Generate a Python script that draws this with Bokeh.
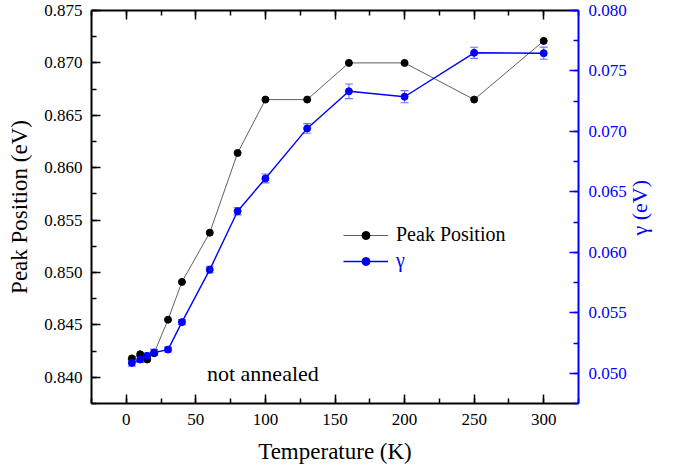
import math
from bokeh.plotting import figure
from bokeh.models import (Range1d, LinearAxis, SingleIntervalTicker, NumeralTickFormatter,
                          ColumnDataSource, Whisker, TeeHead, Legend, LegendItem, Label,
                          CustomJSTickFormatter, FixedTicker)
from bokeh.embed import file_html
from bokeh.resources import INLINE

# ---- data ----
temperature = [4, 10, 15, 20, 30, 40, 60, 80, 100, 130, 160, 200, 250, 300]
peak_position = [0.8418, 0.8422, 0.8417, 0.8423, 0.8455, 0.8491, 0.8538, 0.8614,
                 0.8665, 0.8665, 0.8700, 0.8700, 0.8665, 0.8721]
gamma = [0.05086, 0.05114, 0.05144, 0.05172, 0.05196, 0.05423, 0.05857, 0.0634,
         0.06611, 0.07025, 0.07332, 0.07287, 0.0765, 0.07647]
gamma_err = [0.00027, 0.00025, 0.00022, 0.00025, 0.0002, 0.0002, 0.00028, 0.0003,
             0.00037, 0.0004, 0.0006, 0.0005, 0.00046, 0.0005]

x_label = "Temperature (K)"
y_label = "Peak Position (eV)"
y2_label = "γ (eV)"
annotation = "not annealed"

FONT = "Liberation Serif"

src = ColumnDataSource(dict(
    T=temperature, peak=peak_position, gamma=gamma,
    up=[g + e for g, e in zip(gamma, gamma_err)],
    lo=[g - e for g, e in zip(gamma, gamma_err)],
))

p = figure(width=673, height=469, output_backend="svg", toolbar_location=None,
           x_range=Range1d(-25, 325), y_range=Range1d(0.8375, 0.875),
           x_axis_location=None, y_axis_location=None,
           min_border_left=91, min_border_right=95, min_border_top=10, min_border_bottom=66)
p.extra_y_ranges = {"gamma": Range1d(0.0475, 0.080)}
p.outline_line_color = None
p.background_fill_color = "white"
p.border_fill_color = "white"
p.xgrid.grid_line_color = None
p.ygrid.grid_line_color = None


def style(ax, color):
    ax.axis_line_color = color
    ax.axis_line_width = 2
    ax.major_tick_line_color = color
    ax.minor_tick_line_color = color
    ax.major_tick_line_width = 1.5
    ax.minor_tick_line_width = 1.5
    ax.major_tick_in = 9
    ax.major_tick_out = 0
    ax.minor_tick_in = 5
    ax.minor_tick_out = 0
    ax.major_label_text_font = FONT
    ax.major_label_text_font_size = "17px"
    ax.major_label_text_color = color
    ax.axis_label_text_font = FONT
    ax.axis_label_text_font_size = "23px"
    ax.axis_label_text_font_style = "normal"
    ax.axis_label_text_color = color


xb = LinearAxis(ticker=SingleIntervalTicker(interval=50, num_minor_ticks=2), axis_label=x_label)
style(xb, "black")
xb.major_label_standoff = 10
xb.axis_label_standoff = 11
p.add_layout(xb, "below")

xt = LinearAxis(ticker=SingleIntervalTicker(interval=50, num_minor_ticks=2),
                formatter=CustomJSTickFormatter(code="return ''"))
style(xt, "black")
xt.major_label_standoff = 0
xt.major_label_text_font_size = "0px"
p.add_layout(xt, "above")

yl = LinearAxis(ticker=SingleIntervalTicker(interval=0.005, num_minor_ticks=2),
                formatter=NumeralTickFormatter(format="0.000"), axis_label=y_label)
style(yl, "black")
yl.major_label_standoff = 9
yl.axis_label_standoff = 9
p.add_layout(yl, "left")

yr = LinearAxis(y_range_name="gamma",
                ticker=SingleIntervalTicker(interval=0.005, num_minor_ticks=2),
                formatter=NumeralTickFormatter(format="0.000"))
style(yr, "blue")
yr.major_label_standoff = 10
p.add_layout(yr, "right")

# title of the gamma axis, reading bottom to top: carried by a tickless extra axis
# whose single label starts at the anchor below and runs upward
title_anchor = 0.06139
yr_title = LinearAxis(y_range_name="gamma", ticker=FixedTicker(ticks=[title_anchor], minor_ticks=[]),
                      formatter=CustomJSTickFormatter(args=dict(t=y2_label), code="return t"))
style(yr_title, "blue")
yr_title.axis_line_color = None
yr_title.major_tick_line_color = None
yr_title.minor_tick_line_color = None
yr_title.major_label_text_font_size = "22px"
yr_title.major_label_orientation = math.pi / 2
yr_title.major_label_standoff = 10
p.add_layout(yr_title, "right")

wh = Whisker(source=src, base="T", upper="up", lower="lo", y_range_name="gamma",
             line_color="#6f6fff", line_width=1.2,
             upper_head=TeeHead(size=8, line_color="#6f6fff", line_width=1.2),
             lower_head=TeeHead(size=8, line_color="#6f6fff", line_width=1.2))
p.add_layout(wh)

l1 = p.line("T", "peak", source=src, line_color="#606060", line_width=1)
s1 = p.scatter("T", "peak", source=src, size=7, color="black")
l2 = p.line("T", "gamma", source=src, y_range_name="gamma", line_color="blue", line_width=1.4)
s2 = p.scatter("T", "gamma", source=src, y_range_name="gamma", size=7, color="blue")


def make_legend(item, loc, color):
    lg = Legend(items=[item], location=loc, glyph_width=45, glyph_height=20,
                label_height=20, label_standoff=8, padding=0, margin=0, spacing=0,
                border_line_color=None, background_fill_alpha=0,
                label_text_font=FONT, label_text_font_size="20px",
                label_text_color=color)
    return lg


p.add_layout(make_legend(LegendItem(label="Peak Position", renderers=[l1, s1]), (252, 157), "black"))
p.add_layout(make_legend(LegendItem(label="γ", renderers=[l2, s2]), (252, 131), "blue"))

p.add_layout(Label(x=58, y=0.8404, text=annotation, text_font=FONT, text_font_size="22px",
                   text_baseline="alphabetic", text_color="black"))

open("out.html", "w").write(file_html(p, INLINE))
